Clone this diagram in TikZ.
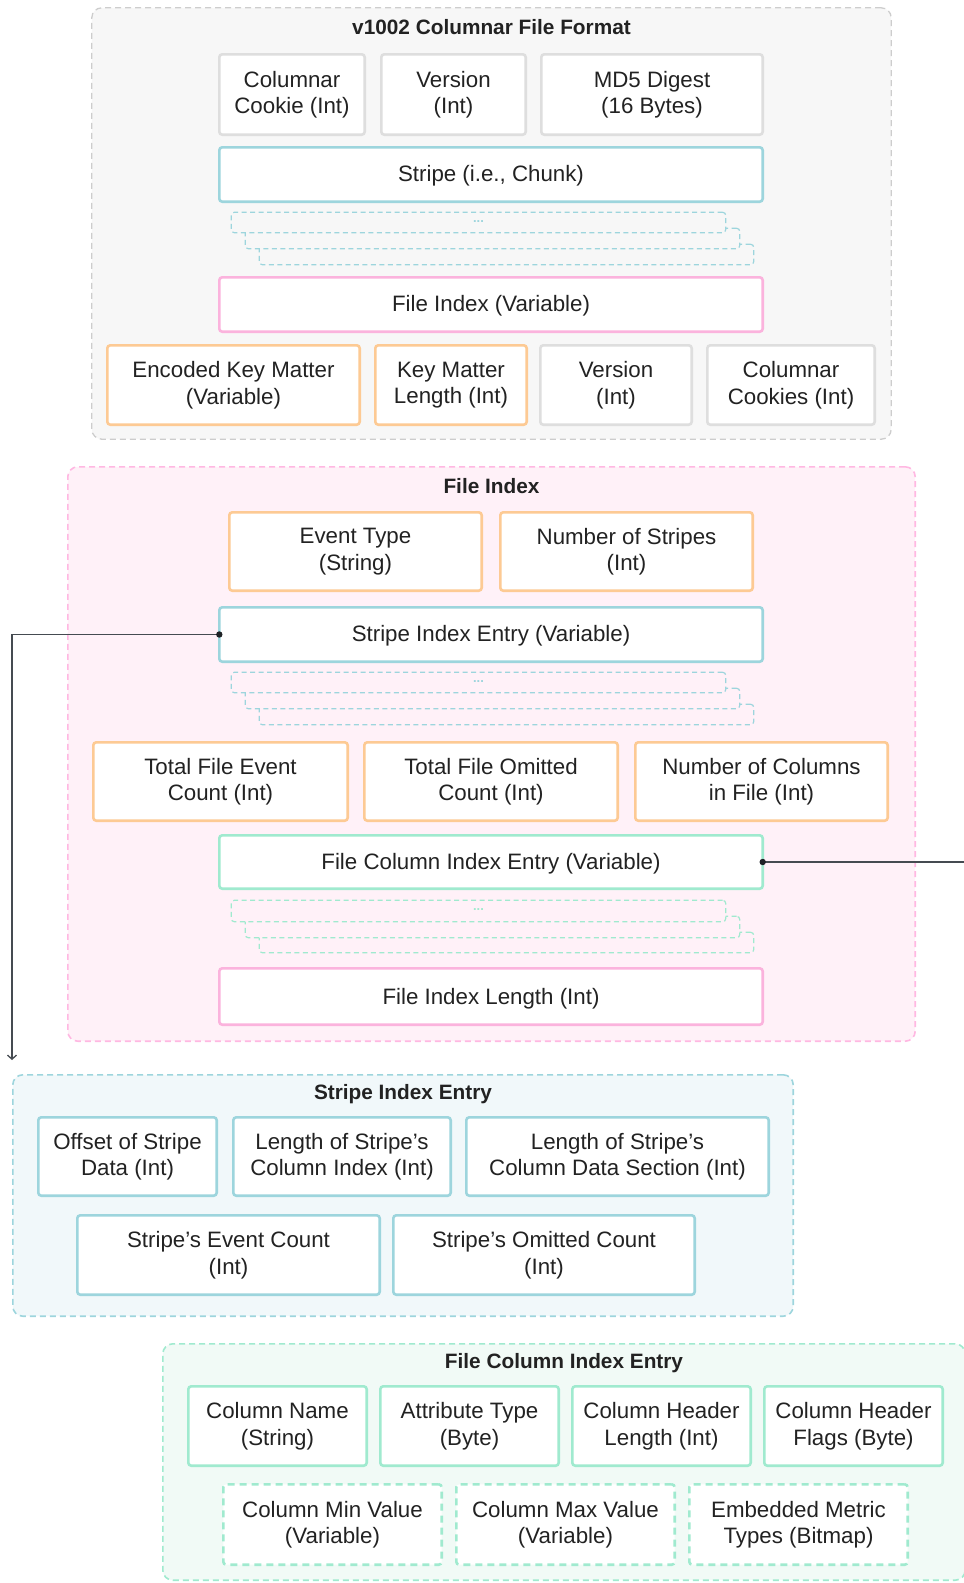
\documentclass[tikz,border=0pt]{standalone}
\usepackage{fontspec}
\setmainfont{Liberation Sans}
\usetikzlibrary{arrows.meta}

\definecolor{ink}{HTML}{222222}
\definecolor{grayln}{HTML}{DEDEDE}
\definecolor{grayfr}{HTML}{CDCDCD}
\definecolor{graybg}{HTML}{F7F7F7}
\definecolor{tealln}{HTML}{9DD5DD}
\definecolor{tealbg}{HTML}{F1F8FA}
\definecolor{pinkln}{HTML}{FBB3DD}
\definecolor{pinkfr}{HTML}{FFB8E2}
\definecolor{pinkbg}{HTML}{FFF1F8}
\definecolor{orangeln}{HTML}{FDCA94}
\definecolor{mintln}{HTML}{A0EACF}
\definecolor{mintbg}{HTML}{F1FAF6}
\definecolor{linkln}{HTML}{454B51}
\definecolor{linkdot}{HTML}{1E2226}

\newcommand\fieldfont{\fontsize{22.3}{26.5}\selectfont}
\newcommand\headfont{\fontsize{20.8}{24}\selectfont\bfseries}

% box from its outer corners: name, x1, y1, x2, y2, style, text
\newcommand\mkbox[7]{\node[#6, minimum width={#4-#2-2.6}, minimum height={#5-#3-2.6}] (#1) at ({(#2+#4)/2},{(#3+#5)/2}) {#7};}
\newcommand\mkframe[6]{\node[#6, minimum width={#4-#2-1.6}, minimum height={#5-#3-1.6}] (#1) at ({(#2+#4)/2},{(#3+#5)/2}) {};}

\begin{document}
\begin{tikzpicture}[x=1pt, y=-1pt,
  every node/.style={inner sep=0pt, outer sep=0pt},
  field/.style={draw, line width=2.6pt, rounded corners=3pt, fill=white,
    align=center, text=ink, font=\fieldfont,
    execute at begin node={\rule{0pt}{19.6pt}}},
  grayf/.style={field, draw=grayln},
  tealf/.style={field, draw=tealln},
  pinkf/.style={field, draw=pinkln},
  orangef/.style={field, draw=orangeln},
  mintf/.style={field, draw=mintln},
  mintdash/.style={mintf, dash pattern=on 7pt off 5pt},
  frame/.style={draw, line width=1.6pt, rounded corners=10pt, dash pattern=on 6pt off 4pt},
  grayframe/.style={frame, draw=grayfr, fill=graybg, line width=1.3pt},
  pinkframe/.style={frame, draw=pinkfr, fill=pinkbg},
  tealframe/.style={frame, draw=tealln, fill=tealbg},
  mintframe/.style={frame, draw=mintln, fill=mintbg},
  stack/.style={draw, line width=1.2pt, rounded corners=3pt, dash pattern=on 5pt off 3.5pt},
  tealstack/.style={stack, draw=tealln},
  mintstack/.style={stack, draw=mintln},
  more/.style={font=\fontsize{13}{13}\selectfont\bfseries},
  head/.style={font=\headfont, text=ink},
  link/.style={draw=linkln, line width=1.3pt},
  linkend/.style={fill=linkdot}
]
\useasboundingbox (0,0) rectangle (964,1583);

% ---------- v1002 columnar file format ----------
\mkframe{fmt}{91}{7}{892}{440}{grayframe}
\node[head] (fmtTitle) at (491.5,27) {v1002 Columnar File Format};
\mkbox{cookie}{218}{53}{366}{136}{grayf}{Columnar\\Cookie (Int)}
\mkbox{ver}{380}{53}{527}{136}{grayf}{Version\\(Int)}
\mkbox{md5}{540}{53}{764}{136}{grayf}{MD5 Digest\\(16 Bytes)}
\mkbox{stripe}{218}{146}{764}{203}{tealf}{Stripe (i.e., Chunk)}
\mkbox{stA3}{258}{243}{755}{266}{tealstack, fill=graybg}{}
\mkbox{stA2}{244}{227}{741}{250}{tealstack, fill=graybg}{}
\mkbox{stA1}{230}{211}{727}{234}{tealstack, fill=graybg}{}
\node[more, text=tealln] (stAdots) at (478.5,222) {...};
\mkbox{fidx}{218}{276}{764}{333}{pinkf}{File Index (Variable)}
\mkbox{ekm}{106}{344}{361}{426}{orangef}{Encoded Key Matter\\(Variable)}
\mkbox{kml}{374}{344}{528}{426}{orangef}{Key Matter\\Length (Int)}
\mkbox{ver2}{539}{344}{693}{426}{grayf}{Version\\(Int)}
\mkbox{cookies}{706}{344}{876}{426}{grayf}{Columnar\\Cookies (Int)}

% ---------- file index ----------
\mkframe{fi}{67}{466}{916}{1042}{pinkframe}
\node[head] (fiTitle) at (491.5,486) {File Index};
\mkbox{evt}{228}{511}{483}{592}{orangef}{Event Type\\(String)}
\mkbox{nstr}{499}{511}{754}{592}{orangef}{Number of Stripes\\(Int)}
\mkbox{sie}{218}{606}{764}{663}{tealf}{Stripe Index Entry (Variable)}
\mkbox{stB3}{258}{703}{755}{726}{tealstack, fill=pinkbg}{}
\mkbox{stB2}{244}{687}{741}{710}{tealstack, fill=pinkbg}{}
\mkbox{stB1}{230}{671}{727}{694}{tealstack, fill=pinkbg}{}
\node[more, text=tealln] (stBdots) at (478.5,682) {...};
\mkbox{tfe}{92}{741}{349}{822}{orangef}{Total File Event\\Count (Int)}
\mkbox{tfo}{363}{741}{619}{822}{orangef}{Total File Omitted\\Count (Int)}
\mkbox{ncol}{634}{741}{889}{822}{orangef}{Number of Columns\\in File (Int)}
\mkbox{fcie}{218}{834}{764}{890}{mintf}{File Column Index Entry (Variable)}
\mkbox{stC3}{258}{931}{755}{954}{mintstack, fill=pinkbg}{}
\mkbox{stC2}{244}{915}{741}{939}{mintstack, fill=pinkbg}{}
\mkbox{stC1}{230}{899}{727}{923}{mintstack, fill=pinkbg}{}
\node[more, text=mintln] (stCdots) at (478.5,910) {...};
\mkbox{filen}{218}{967}{764}{1026}{pinkf}{File Index Length (Int)}

% ---------- stripe index entry ----------
\mkframe{se}{12}{1074}{794}{1317}{tealframe}
\node[head] (seTitle) at (403,1094) {Stripe Index Entry};
\mkbox{off}{37}{1116}{218}{1197}{tealf}{Offset of Stripe\\Data (Int)}
\mkbox{lci}{232}{1116}{452}{1197}{tealf}{Length of Stripe’s\\Column Index (Int)}
\mkbox{lcd}{465}{1116}{770}{1197}{tealf}{Length of Stripe’s\\Column Data Section (Int)}
\mkbox{sec}{76}{1214}{381}{1296}{tealf}{Stripe’s Event Count\\(Int)}
\mkbox{soc}{392}{1214}{696}{1296}{tealf}{Stripe’s Omitted Count\\(Int)}

% ---------- file column index entry ----------
\mkframe{fc}{162}{1343}{966}{1581}{mintframe}
\node[head] (fcTitle) at (564,1363) {File Column Index Entry};
\mkbox{cname}{187}{1385}{368}{1467}{mintf}{Column Name\\(String)}
\mkbox{atype}{379}{1385}{560}{1467}{mintf}{Attribute Type\\(Byte)}
\mkbox{chlen}{571}{1385}{752}{1467}{mintf}{Column Header\\Length (Int)}
\mkbox{chflg}{763}{1385}{944}{1467}{mintf}{Column Header\\Flags (Byte)}
\mkbox{cmin}{222}{1483}{443}{1566}{mintdash}{Column Min Value\\(Variable)}
\mkbox{cmax}{455}{1483}{676}{1566}{mintdash}{Column Max Value\\(Variable)}
\mkbox{emt}{688}{1483}{909}{1566}{mintdash}{Embedded Metric\\Types (Bitmap)}

% ---------- connectors ----------
\coordinate (sieTip) at (12,1060);
\coordinate (fcieOut) at (964,862);
\draw[link, -{Straight Barb[length=4pt, width=9pt]}] (sie.west) -| (sieTip);
\draw[link] (fcie.east) -- (fcieOut);
\fill[linkend] (sie.west) circle (3.2pt);
\fill[linkend] (fcie.east) circle (3.2pt);
\end{tikzpicture}
\end{document}
